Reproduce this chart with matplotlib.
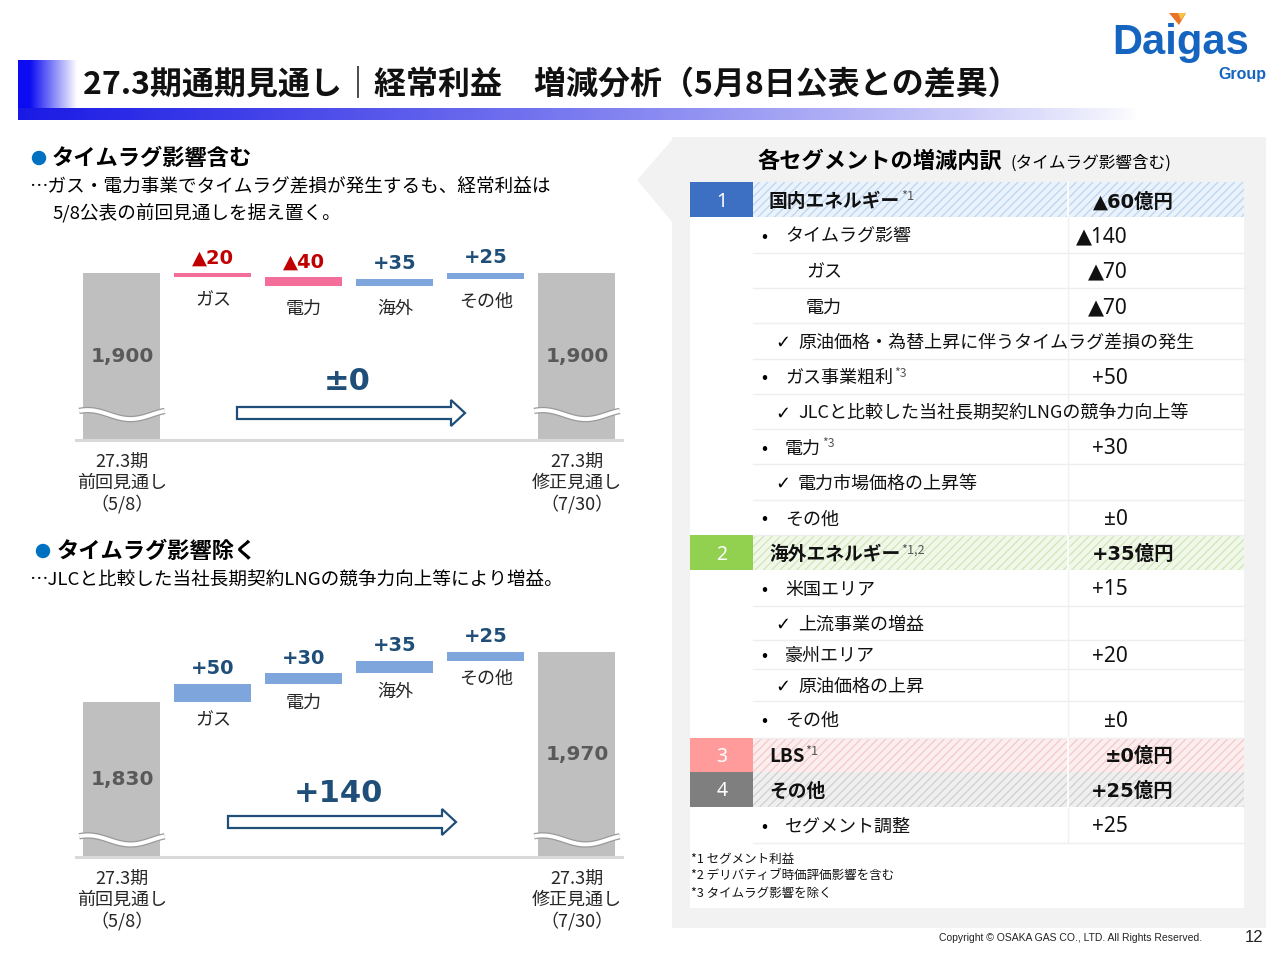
import numpy as np
import matplotlib
matplotlib.use('Agg')
import matplotlib.pyplot as plt
from matplotlib.patches import Rectangle, Polygon, Circle
from matplotlib.transforms import blended_transform_factory

plt.rcParams['font.family'] = ['Noto Sans CJK JP', 'DejaVu Sans']
plt.rcParams['hatch.linewidth'] = 0.9

# ---- waterfall data ----
steps = ['ガス', '電力', '海外', 'その他']
start_name = '27.3期\n前回見通し\n（5/8）'
end_name = '27.3期\n修正見通し\n（7/30）'
with_lag_start = 1900
with_lag_deltas = [-20, -40, 35, 25]
without_lag_start = 1830
without_lag_deltas = [50, 30, 35, 25]

# ---- segment table data ----
row_kind = ['h', 'b', 's', 's', 'c', 'b', 'c', 'b', 'c', 'b',
            'h', 'b', 'c', 'b', 'c', 'b', 'h', 'h', 'b']
row_text = ['国内エネルギー', 'タイムラグ影響', 'ガス', '電力',
            '原油価格・為替上昇に伴うタイムラグ差損の発生', 'ガス事業粗利',
            'JLCと比較した当社長期契約LNGの競争力向上等', '電力', '電力市場価格の上昇等', 'その他',
            '海外エネルギー', '米国エリア', '上流事業の増益', '豪州エリア', '原油価格の上昇', 'その他',
            'LBS', 'その他', 'セグメント調整']
row_sup = ['*1', '', '', '', '', '*3', '', '*3', '', '',
           '*1,2', '', '', '', '', '', '*1', '', '']
row_value = ['▲60億円', '▲140', '▲70', '▲70', '', '+50', '', '+30', '', '±0',
             '+35億円', '+15', '', '+20', '', '±0', '±0億円', '+25億円', '+25']
seg_no = ['1', '2', '3', '4']
seg_color = ['#3D6FC2', '#92D050', '#FF9B9B', '#7F7F7F']
seg_face = ['#EAF2FB', '#F1F8EA', '#FCEEEE', '#EFEFEF']
seg_hatch = ['#BDD5EF', '#CFE6B8', '#F4C9C9', '#CFCFCF']
footnotes = ['*1 セグメント利益', '*2 デリバティブ時価評価影響を含む', '*3 タイムラグ影響を除く']

GRAY = '#BFBFBF'
PINK = '#F36F9A'
BLUE = '#7EA6DC'
RED = '#C00000'
NAVY = '#1F4E79'

W, H = 1280, 960
fig = plt.figure(figsize=(12.8, 9.6), dpi=100)
bg = fig.add_axes([0, 0, 1, 1])
bg.set_xlim(0, W)
bg.set_ylim(H, 0)
bg.axis('off')
r = fig.canvas.get_renderer()


def fmt(v):
    if v < 0:
        return '▲%d' % -v
    if v > 0:
        return '+%d' % v
    return '±0'


def px_axes(x0, y0, x1, y1):
    return fig.add_axes([x0 / W, 1 - y1 / H, (x1 - x0) / W, (y1 - y0) / H])


# ---- title banner ----
blk = np.ones((2, 80, 4))
blk[..., :3] = [0.05, 0.05, 0.95]
blk[..., 3] = np.clip(np.linspace(1.25, -0.05, 80), 0, 1)
bg.imshow(blk, extent=(18, 80, 109, 60), aspect='auto', zorder=1)
stripe = np.ones((2, 300, 4))
stripe[..., :3] = [0.1, 0.1, 0.9]
stripe[..., 3] = np.linspace(1, 0, 300) ** 0.8
bg.imshow(stripe, extent=(18, 1140, 120, 108), aspect='auto', zorder=1)
bg.set_xlim(0, W)
bg.set_ylim(H, 0)
bg.text(83, 84, '27.3期通期見通し｜経常利益\u3000増減分析（5月8日公表との差異）',
        fontsize=23, weight='bold', va='center', ha='left', color='#111111', zorder=3)

# ---- logo ----
bg.text(1112, 54, 'Daigas', family='Liberation Sans', weight='bold', fontsize=30,
        color='#1565C0', ha='left', va='baseline')
bg.text(1266, 79, 'Group', family='Liberation Sans', weight='bold', fontsize=11.5,
        color='#1565C0', ha='right', va='baseline')
bg.add_patch(Polygon([(1169, 13), (1186, 13), (1179, 25)], closed=True, color='#E8742A', lw=0))
bg.add_patch(Polygon([(1178, 13), (1186, 13), (1181, 20)], closed=True, color='#F5C242', lw=0))

# ---- left texts ----
bg.add_patch(Circle((39, 158), 6.5, color='#0070C0'))
bg.text(52, 158, 'タイムラグ影響含む', fontsize=16, weight='bold', va='center')
bg.text(29, 188, '…ガス・電力事業でタイムラグ差損が発生するも、経常利益は', fontsize=13.4, va='center')
bg.text(52, 213, '5/8公表の前回見通しを据え置く。', fontsize=13.4, va='center')
bg.add_patch(Circle((43, 551), 6.5, color='#0070C0'))
bg.text(57, 551, 'タイムラグ影響除く', fontsize=16, weight='bold', va='center')
bg.text(29, 581, '…JLCと比較した当社長期契約LNGの競争力向上等により増益。', fontsize=13.4, va='center')


def waterfall(rect, start, deltas, ylim, wave_frac, label_gap):
    ax = px_axes(*rect)
    ax.set_xlim(-0.505, 5.495)
    ax.set_ylim(*ylim)
    ax.axis('off')
    ax.patch.set_alpha(0)
    ymin = ylim[0]
    end = start + sum(deltas)
    ax.bar([0, 5], [start - ymin, end - ymin], bottom=ymin, width=0.846, color=GRAY)
    level = start
    for i, d in enumerate(deltas):
        x = i + 1
        ax.bar(x, d, bottom=level, width=0.846, color=PINK if d < 0 else BLUE)
        top, bot = max(level, level + d), min(level, level + d)
        ax.annotate(fmt(d), (x, top), xytext=(0, 4), textcoords='offset points',
                    ha='center', va='bottom', fontsize=14, weight='bold',
                    family='DejaVu Sans', color=RED if d < 0 else NAVY)
        ax.annotate(steps[i], (x, bot), xytext=(0, -label_gap), textcoords='offset points',
                    ha='center', va='top', fontsize=13, color='#262626')
        level += d
    tr = blended_transform_factory(ax.transData, ax.transAxes)
    amp = 4.5 / (rect[3] - rect[1])
    t = np.linspace(0, 1, 80)
    for x, v, name in [(0, start, start_name), (5, end, end_name)]:
        ax.text(x, (ymin + v) / 2, f'{v:,}', ha='center', va='center', fontsize=14.5,
                weight='bold', family='DejaVu Sans', color='#595959')
        ax.annotate(name, (x, ymin), xytext=(0, -9), textcoords='offset points',
                    ha='center', va='top', fontsize=13, linespacing=1.22, color='#262626')
        xs = x - 0.47 + 0.94 * t
        ys = wave_frac + amp * np.cos(2 * np.pi * (t - 0.1))
        ax.plot(xs, ys, transform=tr, color='#9A9A9A', lw=4.6, solid_capstyle='butt', clip_on=False)
        ax.plot(xs, ys, transform=tr, color='white', lw=2.8, solid_capstyle='butt', clip_on=False)
    ax.plot([-0.505, 5.495], [ymin, ymin], color='#D9D9D9', lw=2.2, clip_on=False)
    return end - start


def hollow_arrow(x0, x1, y):
    pts = [(x0, y - 6), (x1 - 14, y - 6), (x1 - 14, y - 13), (x1, y), (x1 - 14, y + 13),
           (x1 - 14, y + 6), (x0, y + 6)]
    bg.add_patch(Polygon(pts, closed=True, facecolor='white', edgecolor=NAVY, lw=1.6, zorder=4))


tot1 = waterfall((76, 230, 622, 440), with_lag_start, with_lag_deltas, (1141, 2095.5), 0.121, 10)
tot2 = waterfall((76, 620, 622, 857), without_lag_start, without_lag_deltas, (1399.4, 2057.7), 0.072, 7)
hollow_arrow(237, 465, 413)
bg.text(347, 382, fmt(tot1), fontsize=22, weight='bold', family='DejaVu Sans', color=NAVY,
        ha='center', va='center')
hollow_arrow(228, 456, 822)
bg.text(338, 794, fmt(tot2), fontsize=22, weight='bold', family='DejaVu Sans', color=NAVY,
        ha='center', va='center')

# ---- right panel ----
bg.add_patch(Rectangle((672, 137), 594, 791, color='#F2F2F2', lw=0))
bg.add_patch(Polygon([(637, 180), (672, 140), (672, 222)], closed=True, color='#F2F2F2', lw=0))
bg.text(757, 161, '各セグメントの増減内訳', fontsize=16, weight='bold', va='center')
bg.text(1010, 163, '(タイムラグ影響含む)', fontsize=12, va='center')
bg.add_patch(Rectangle((690, 182), 554, 726, color='white', lw=0))

VAL_FONT = ['Noto Sans', 'DejaVu Sans', 'Noto Sans CJK JP']
HEAD_FONT = ['DejaVu Sans', 'Noto Sans CJK JP']


def label_sup(x, y, s, sup, size, weight):
    t = bg.text(x, y, s, fontsize=size, weight=weight, va='center', ha='left', color='#111111')
    if sup:
        bb = t.get_window_extent(renderer=r)
        xe = bg.transData.inverted().transform((bb.x1, bb.y1))[0]
        bg.text(xe + 1, y - 5, sup, fontsize=size * 0.68, va='center', ha='left', color='#555555')


row_h = [35.3] * 12 + [34, 29, 32, 37, 34, 35, 36]
edges = 182 + np.concatenate([[0], np.cumsum(row_h)])
bg.plot([1068, 1068], [182, edges[-1]], color='#F0F0F0', lw=1)
seg = 0
for i, kind in enumerate(row_kind):
    y0, y1 = edges[i], edges[i + 1]
    yc = (y0 + y1) / 2 + 2
    if kind == 'h':
        bg.add_patch(Rectangle((690, y0), 63, y1 - y0, color=seg_color[seg], lw=0))
        bg.add_patch(Rectangle((753, y0), 491, y1 - y0, facecolor=seg_face[seg],
                               edgecolor=seg_hatch[seg], hatch='////', lw=0))
        bg.plot([1068, 1068], [y0, y1], color='white', lw=1.5, alpha=0.8)
        bg.text(722, yc, seg_no[seg], fontsize=14, color='white', ha='center', va='center',
                family=['Noto Sans', 'DejaVu Sans'])
        label_sup(769, yc, row_text[i], row_sup[i], 13.5, 'bold')
        bg.text(1174, yc, row_value[i], fontsize=14, weight='bold', ha='right', va='center',
                family=HEAD_FONT, color='#111111')
        seg += 1
    else:
        bg.plot([753, 1244], [y1, y1], color='#EEEEEE', lw=1)
        if kind == 'b':
            bg.text(764, yc, '•', fontsize=13, va='center', ha='center')
            label_sup(785, yc, row_text[i], row_sup[i], 13, 'normal')
        elif kind == 's':
            label_sup(806, yc, row_text[i], row_sup[i], 13, 'normal')
        else:
            bg.text(775, yc, '✓', fontsize=13, va='center', ha='left', family=['DejaVu Sans'])
            label_sup(798, yc, row_text[i], row_sup[i], 13, 'normal')
        if row_value[i]:
            bg.text(1128, yc, row_value[i], fontsize=15, ha='right', va='center',
                    family=VAL_FONT, color='#111111')

for k, note in enumerate(footnotes):
    bg.text(691, 859 + 17 * k, note, fontsize=9, va='center', ha='left', color='#111111')

bg.text(1202, 938, 'Copyright © OSAKA GAS CO., LTD. All Rights Reserved.', fontsize=7.5,
        family='Liberation Sans', ha='right', va='center', color='#222222')
bg.text(1263, 938, '12', fontsize=12, ha='right', va='center', family='Liberation Sans',
        color='#222222')

fig.savefig('out.png', dpi=100)
